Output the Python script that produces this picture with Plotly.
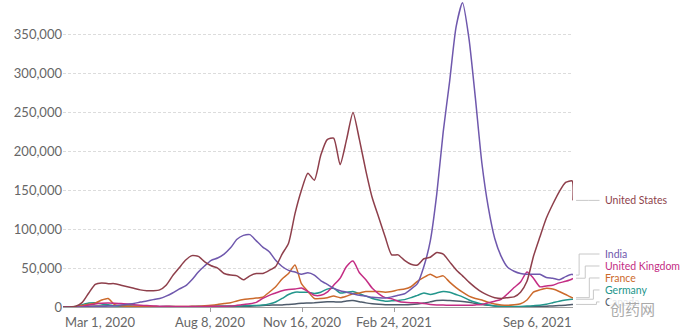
import numpy as np
import pandas as pd
import plotly.graph_objects as go

# Daily new confirmed COVID-19 cases, 7-day rolling average (thousands),
# sampled weekly from 1 Mar 2020 plus the final day, 6 Sep 2021.
dates = list(pd.date_range("2020-03-01", "2021-09-05", freq="7D")) + [pd.Timestamp("2021-09-06")]

united_states = [
    0, 0.1, 1, 6, 18, 29, 31, 30, 30, 28, 26, 24, 22, 21, 21, 22, 28, 40, 50, 60,
    66, 65, 58, 53, 50, 43, 41, 40, 35, 40, 43, 43, 47, 52, 68, 82, 120, 150, 172, 163,
    195, 215, 217, 183, 215, 250, 215, 175, 140, 115, 90, 67, 67, 60, 55, 54, 62, 64, 70, 68,
    58, 48, 40, 32, 25, 19, 15, 12, 11, 12, 13, 19, 33, 65, 90, 114, 132, 148, 160, 162,
    137,
]
india = [
    0, 0, 0.02, 0.05, 0.1, 0.4, 0.8, 1.2, 1.7, 2.5, 3.5, 4.5, 6.3, 7.8, 9.5, 11, 14, 18, 23, 27,
    35, 45, 53, 60, 63, 68, 76, 87, 92, 93, 85, 77, 71, 60, 52, 47, 45, 42, 44, 41,
    34, 29, 24, 21, 19, 17, 15, 14, 12.5, 11.8, 11.5, 13, 15, 17, 23, 30, 52, 85, 145, 225,
    290, 360, 391, 345, 268, 185, 128, 88, 65, 51, 46, 43, 42, 42, 42, 38, 37, 35, 39, 42,
    41,
]
united_kingdom = [
    0, 0.02, 0.2, 0.8, 2.5, 4, 4.8, 5, 4.8, 4.5, 3.8, 3, 2.3, 1.8, 1.4, 1.1, 0.9, 0.8, 0.6, 0.6,
    0.65, 0.7, 0.8, 0.9, 1.0, 1.1, 1.3, 2.2, 3.2, 4.2, 6, 11, 15, 18, 21, 22.5, 23, 24.5, 20, 15,
    15, 19, 28, 37, 52, 59, 44, 35, 24, 17, 12, 10.5, 7.5, 6, 5.5, 5.5, 4.5, 3.3, 2.7, 2.5,
    2.2, 2.1, 2.2, 2.3, 2.7, 3.3, 5.3, 7.5, 9.8, 17, 25, 32, 45, 37, 26, 27, 28, 31, 33, 36,
    37,
]
france = [
    0, 0.1, 0.6, 2, 3.5, 5, 9, 11, 3, 1.5, 1, 0.5, 0.4, 0.5, 0.5, 0.4, 0.5, 0.6, 0.6, 0.7,
    0.9, 1.1, 1.6, 2.2, 3.2, 4.6, 5.5, 7.8, 9.6, 10.5, 11.5, 12.5, 19, 26, 36, 43, 54, 30, 20, 11,
    11, 12, 14, 12, 14, 17, 18, 20, 20, 20, 19, 20, 22, 23, 26, 33, 38, 42, 38, 40,
    32, 25, 19, 14, 11, 9, 6, 3.8, 2.5, 2.1, 2.8, 4.2, 9, 19, 22, 24, 23, 20, 16, 12,
    12,
]
germany = [
    0, 0.1, 0.8, 3, 5, 5.5, 4, 2.8, 1.6, 1.1, 0.8, 0.6, 0.5, 0.4, 0.35, 0.4, 0.6, 0.5, 0.4, 0.4,
    0.5, 0.7, 0.8, 1.0, 1.3, 1.4, 1.3, 1.3, 1.5, 1.8, 2.0, 2.5, 4, 6.5, 11, 16, 19, 19, 19, 17.5,
    19, 23, 24, 18, 19, 20, 17, 14, 11, 9, 7.5, 8, 8.5, 9.5, 12, 15, 18, 16, 18, 20,
    19, 16, 13, 9, 6, 3.8, 2.5, 1.3, 0.8, 0.6, 0.6, 0.8, 1.2, 1.7, 2.2, 3.5, 5.5, 7.5, 9, 10,
    10,
]
canada = [
    0, 0, 0.05, 0.3, 0.9, 1.2, 1.3, 1.6, 1.6, 1.4, 1.2, 1.1, 1.0, 0.8, 0.6, 0.4, 0.35, 0.3, 0.3, 0.35,
    0.45, 0.5, 0.4, 0.35, 0.35, 0.4, 0.45, 0.6, 0.75, 1.0, 1.5, 1.9, 2.3, 2.5, 2.6, 3.3, 4.0, 4.7, 5.1, 5.5,
    6.2, 6.6, 6.7, 6.4, 7.8, 8.2, 6.8, 5.3, 4.2, 3.5, 3.0, 3.0, 3.0, 2.9, 3.2, 3.9, 5.0, 6.6, 8.3, 8.6,
    8.2, 7.8, 7.2, 6.0, 4.6, 3.3, 2.2, 1.4, 0.9, 0.65, 0.45, 0.38, 0.45, 0.5, 0.65, 0.9, 1.4, 1.9, 2.4, 3.2,
    3.3,
]

countries = ["Canada", "Germany", "France", "United Kingdom", "India", "United States"]
series = {
    "United States": united_states,
    "India": india,
    "United Kingdom": united_kingdom,
    "France": france,
    "Germany": germany,
    "Canada": canada,
}
line_colors = {
    "United States": "#8e3f4b",
    "India": "#6f58ad",
    "United Kingdom": "#c42d84",
    "France": "#cc6a2c",
    "Germany": "#23968c",
    "Canada": "#4e5b6b",
}

y_ticks = [0, 50000, 100000, 150000, 200000, 250000, 300000, 350000]
x_tick_dates = ["2020-03-01", "2020-08-08", "2020-11-16", "2021-02-24", "2021-09-06"]
x_tick_labels = ["Mar 1, 2020", "Aug 8, 2020", "Nov 16, 2020", "Feb 24, 2021", "Sep 6, 2021"]
x_tick_anchor = ["left", "center", "center", "center", "right"]

FONT = "Lato, 'Open Sans', sans-serif"

fig = go.Figure()
for name in countries:
    fig.add_trace(go.Scatter(
        x=dates,
        y=np.array(series[name]) * 1000,
        mode="lines",
        name=name,
        line=dict(color=line_colors[name], width=1.5, shape="spline", smoothing=0.6),
        showlegend=False,
    ))

# Line-end labels on the right: the US label sits at its final value,
# the others are stacked in evenly spaced rows near the bottom.
stack_order = ["Canada", "Germany", "France", "United Kingdom", "India"]
label_y = {"United States": united_states[-1] * 1000}
for i, name in enumerate(stack_order):
    label_y[name] = 6500 + i * 15400
elbow_x = {"India": 1.012, "United Kingdom": 1.024, "France": 1.032,
           "Germany": 1.040, "Canada": 1.046, "United States": 1.03}

shapes = []
annotations = []
for name in countries:
    end_val = series[name][-1] * 1000
    ly = label_y[name]
    ex = elbow_x[name]
    shapes.append(dict(
        type="path", xref="paper", yref="y",
        path=f"M 1.006,{end_val} L {ex},{end_val} L {ex},{ly} L 1.052,{ly}",
        line=dict(color="#c8c8c8", width=1),
    ))
    annotations.append(dict(
        xref="paper", yref="y", x=1.058, y=ly, xanchor="left", yanchor="middle",
        text=name, showarrow=False,
        font=dict(family=FONT, size=10.5, color=line_colors[name]),
    ))

for d, t, a in zip(x_tick_dates, x_tick_labels, x_tick_anchor):
    annotations.append(dict(
        xref="x", yref="paper", x=d, y=0, yshift=-5, xanchor=a, yanchor="top",
        text=t, showarrow=False,
        font=dict(family=FONT, size=13, color="#666666"),
    ))

# watermark
annotations.append(dict(
    xref="paper", yref="paper", x=1.07, y=0.0, yshift=-1, xanchor="left", yanchor="middle",
    text="创药网", showarrow=False, bgcolor="rgba(255,255,255,0.85)", borderpad=0,
    font=dict(family="'Noto Sans CJK SC'", size=15, color="#aaaaaa"),
))

fig.update_layout(
    width=683, height=332,
    margin=dict(l=63, r=110, t=0, b=25),
    paper_bgcolor="white", plot_bgcolor="white",
    shapes=shapes, annotations=annotations,
    xaxis=dict(
        type="date", range=["2020-03-01", "2021-09-06"],
        showgrid=False, zeroline=False,
        showline=True, linecolor="#a0a0a0", linewidth=1,
        tickvals=x_tick_dates[1:-1], ticks="outside", ticklen=4, tickcolor="#a0a0a0",
        showticklabels=False,
    ),
    yaxis=dict(
        range=[0, 394500], tickvals=y_ticks, tickformat=",",
        showgrid=True, gridcolor="#dcdcdc", griddash="3px,2px", gridwidth=1,
        zeroline=False, showline=False, ticks="",
        tickfont=dict(family=FONT, size=13, color="#666666"),
    ),
)

fig.write_html("out.html")
